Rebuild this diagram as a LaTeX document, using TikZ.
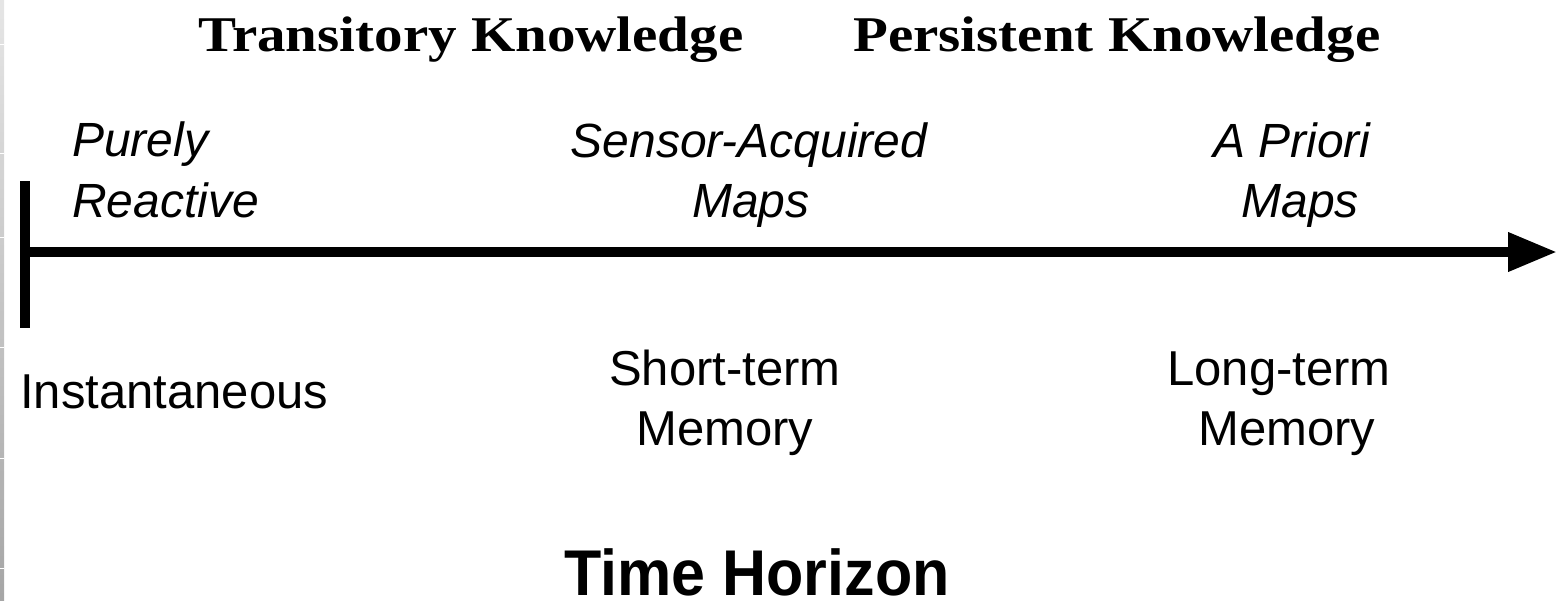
\documentclass[tikz,border=0pt]{standalone}
\usepackage{fontspec}
\setmainfont{Liberation Serif}
\setsansfont{Liberation Sans}
\usetikzlibrary{arrows.meta}
\begin{document}
\begin{tikzpicture}[x=1pt,y=-1pt,
  title/.style={inner sep=0pt,anchor=base west,font=\fontsize{50}{50}\selectfont\bfseries},
  cat/.style={inner sep=0pt,anchor=base,font=\fontsize{48}{48}\selectfont\sffamily\itshape},
  mem/.style={inner sep=0pt,anchor=base,font=\fontsize{49}{49}\selectfont\sffamily},
  axisline/.style={line width=10pt,black}]
\useasboundingbox (0,0) rectangle (1558,600);
% left edge strip
\shade[top color=black!10,bottom color=black!35] (0,0) rectangle (4,600);
\foreach \yy in {44,153,237,347,458,568}
  \draw[white,line width=1pt] (0,\yy) -- (4,\yy);
% titles
\node[title] (trans) at (198,51) {\scalebox{1.14}[1]{Transitory Knowledge}};
\node[title] (pers) at (853,51) {\scalebox{1.14}[1]{Persistent Knowledge}};
% categories
\node[cat,anchor=base west] (pur1) at (72,156) {Purely};
\node[cat,anchor=base west] (pur2) at (72,217) {Reactive};
\node[cat] (sen1) at (749,157) {Sensor-Acquired};
\node[cat] (sen2) at (751,217) {Maps};
\node[cat] (apr1) at (1292,157) {A Priori};
\node[cat] (apr2) at (1300,217) {Maps};
% axis
\coordinate (bartop) at (25,181);
\coordinate (barbot) at (25,328);
\coordinate (origin) at (25,252);
\coordinate (axend) at (1557,252);
\draw[axisline] (bartop) -- (barbot);
\draw[axisline,-{Triangle[length=49pt,width=37pt]}] (origin) -- (axend);
% memory labels
\node[mem,anchor=base west] (inst) at (20,408) {Instantaneous};
\node[mem] (st1) at (725,385) {Short-term};
\node[mem] (st2) at (725,445) {Memory};
\node[mem] (lt1) at (1279,385) {Long-term};
\node[mem] (lt2) at (1287,445) {Memory};
% horizon
\node[inner sep=0pt,anchor=base,text depth=0pt,font=\fontsize{61}{61}\selectfont\sffamily\bfseries] (hor) at (757,595) {\scalebox{1}[1.06]{Time Horizon}};
\end{tikzpicture}
\end{document}
